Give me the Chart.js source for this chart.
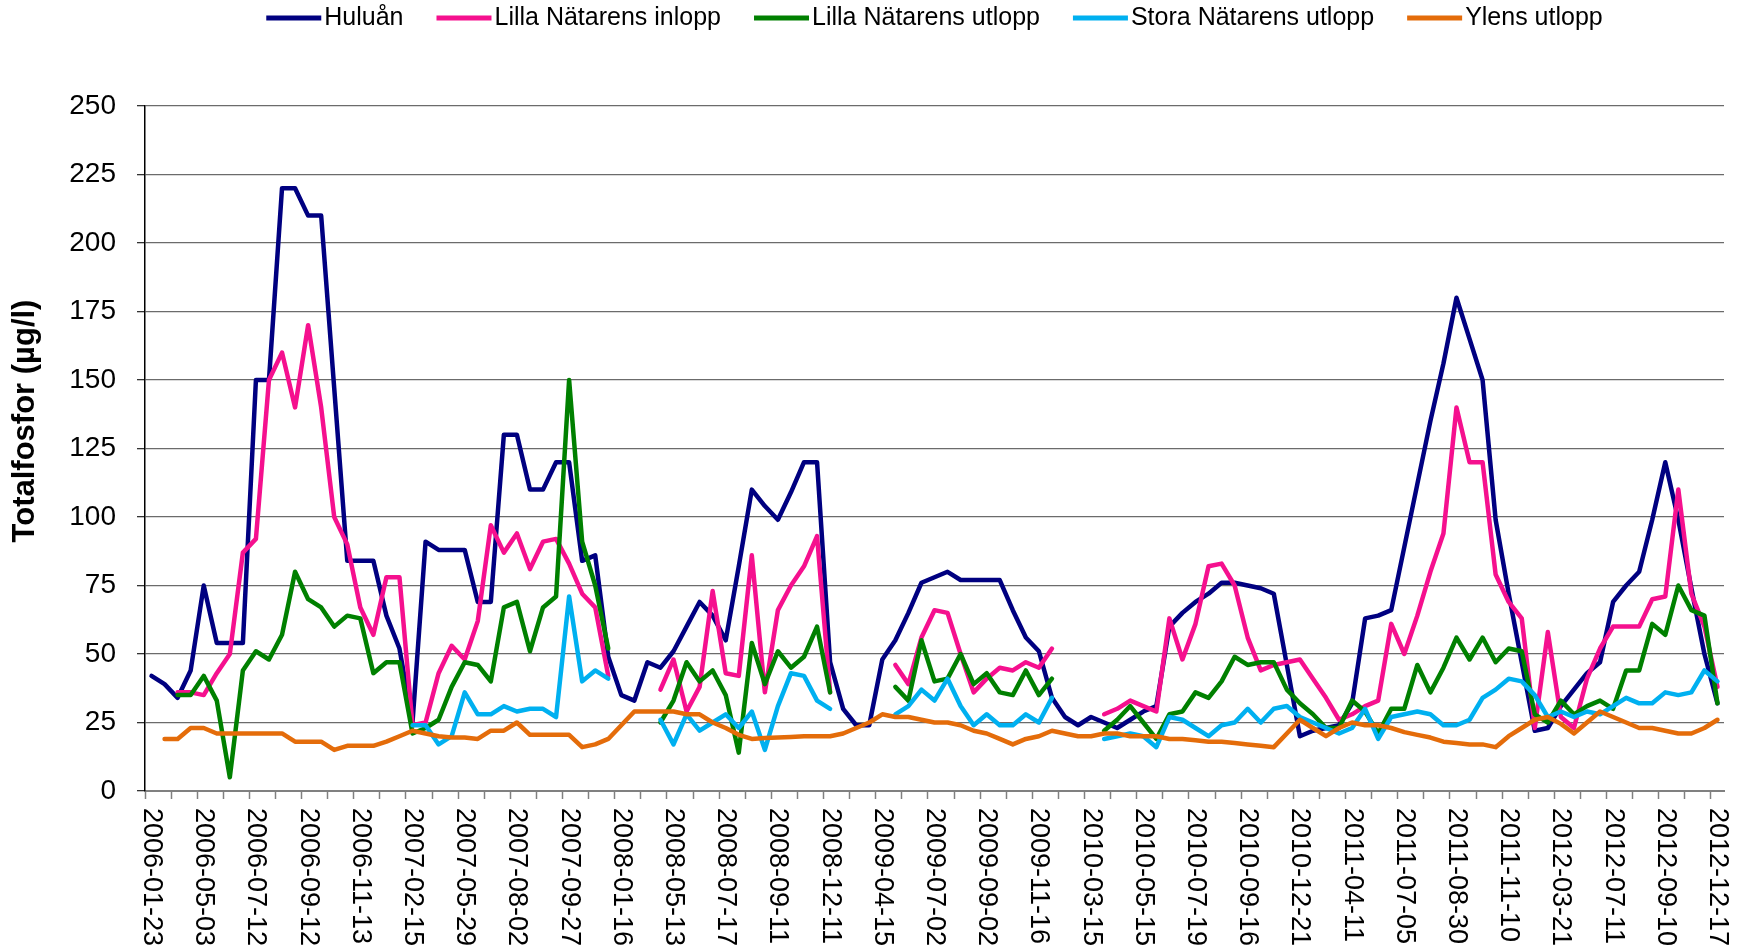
<!DOCTYPE html>
<html>
<head>
<meta charset="utf-8">
<title>Totalfosfor</title>
<script src="https://cdn.jsdelivr.net/npm/chart.js@4/dist/chart.umd.min.js"></script>
<style>
body { margin: 0; background: #fff; }
#wrap { width: 1747px; height: 948px; }
</style>
</head>
<body>
<div id="wrap"><canvas id="chart-fosfor"></canvas></div>
<script>
// datumetiketter som syns på x-axeln (var fjärde provtagning)
var tickLabels = [
    "2006-01-23", "2006-05-03", "2006-07-12", "2006-09-12", "2006-11-13",
    "2007-02-15", "2007-05-29", "2007-08-02", "2007-09-27", "2008-01-16",
    "2008-05-13", "2008-07-17", "2008-09-11", "2008-12-11", "2009-04-15",
    "2009-07-02", "2009-09-02", "2009-11-16", "2010-03-15", "2010-05-15",
    "2010-07-19", "2010-09-16", "2010-12-21", "2011-04-11", "2011-07-05",
    "2011-08-30", "2011-11-10", "2012-03-21", "2012-07-11", "2012-09-10",
    "2012-12-17"
];

var seriesNames = ["Huluån", "Lilla Nätarens inlopp", "Lilla Nätarens utlopp", "Stora Nätarens utlopp", "Ylens utlopp"];
var seriesColors = ["#000080", "#f5108e", "#008000", "#00b0f0", "#e46c0a"];

var huluan = [
    42, 39, 34, 44, 75, 54, 54, 54, 150, 150, 220, 220, 210, 210, 147, 84, 84, 84, 64, 52,
    25, 91, 88, 88, 88, 69, 69, 130, 130, 110, 110, 120, 120, 84, 86, 49, 35, 33, 47, 45,
    51, 60, 69, 64, 55, 82, 110, 104, 99, 109, 120, 120, 47, 30, 24, 24, 48, 55, 65, 76,
    78, 80, 77, 77, 77, 77, 66, 56, 51, 34, 27, 24, 27, 25, 23, 26, 29, 31, 60, 65,
    69, 72, 76, 76, 75, 74, 72, 46, 20, 22, 23, 24, 32, 63, 64, 66, 89, 112, 135, 156,
    180, 165, 150, 99, 72, 47, 22, 23, 31, 37, 43, 47, 69, 75, 80, 99, 120, 99, 74, 50,
    32
];

var lillaInlopp = [
    null, null, 36, 36, 35, 43, 50, 87, 92, 150, 160, 140, 170, 140, 100, 90, 67, 57, 78, 78,
    24, 25, 43, 53, 48, 62, 97, 87, 94, 81, 91, 92, 83, 72, 67, 42, null, null, null, 37,
    48, 29, 38, 73, 43, 42, 86, 36, 66, 75, 82, 93, 36, null, null, null, null, 46, 39, 56,
    66, 65, 50, 36, 41, 45, 44, 47, 45, 52, null, null, null, 28, 30, 33, 31, 29, 63, 48,
    61, 82, 83, 75, 56, 44, 46, 47, 48, 41, 34, 26, 28, 31, 33, 61, 50, 64, 80, 94,
    140, 120, 120, 79, 69, 63, 23, 58, 27, 23, 41, 52, 60, 60, 60, 70, 71, 110, 72, 60,
    38
];

var lillaUtlopp = [
    null, null, 35, 35, 42, 33, 5, 44, 51, 48, 57, 80, 70, 67, 60, 64, 63, 43, 47, 47,
    21, 23, 26, 38, 47, 46, 40, 67, 69, 51, 67, 71, 150, 91, 75, 52, null, null, null, 25,
    33, 47, 40, 44, 35, 14, 54, 39, 51, 45, 49, 60, 36, null, null, null, null, 38, 33, 55,
    40, 41, 50, 39, 43, 36, 35, 44, 35, 41, null, null, null, 22, 26, 31, 25, 19, 28, 29,
    36, 34, 40, 49, 46, 47, 47, 37, 32, 28, 23, 23, 33, 29, 21, 30, 30, 46, 36, 45,
    56, 48, 56, 47, 52, 51, 28, 25, 33, 28, 31, 33, 30, 44, 44, 61, 57, 75, 66, 64,
    32
];

var storaUtlopp = [
    null, null, null, null, null, null, null, null, null, null, null, null, null, null, null, null, null, null, null, null,
    24, 24, 17, 20, 36, 28, 28, 31, 29, 30, 30, 27, 71, 40, 44, 41, null, null, null, 26,
    17, 28, 22, 25, 28, 23, 29, 15, 31, 43, 42, 33, 30, null, null, null, null, 28, 31, 37,
    33, 41, 31, 24, 28, 24, 24, 28, 25, 34, null, null, null, 19, 20, 21, 20, 16, 27, 26,
    23, 20, 24, 25, 30, 25, 30, 31, 27, 25, 23, 21, 23, 30, 19, 27, 28, 29, 28, 24,
    24, 26, 34, 37, 41, 40, 35, 27, 29, 27, 29, 28, 31, 34, 32, 32, 36, 35, 36, 44,
    40
];

var ylensUtlopp = [
    null, 19, 19, 23, 23, 21, 21, 21, 21, 21, 21, 18, 18, 18, 15, 16.5, 16.5, 16.5, 18, 20,
    22, 21, 20, 19.5, 19.5, 19, 22, 22, 25, 20.5, 20.5, 20.5, 20.5, 16, 17, 19, 24, 29, 29, 29,
    29, 28, 28, 25, 23, 20.5, 19, 19.3, 19.5, 19.7, 20, 20, 20, 21, 23, 25, 28, 27, 27, 26,
    25, 25, 24, 22, 21, 19, 17, 19, 20, 22, 21, 20, 20, 21, 21, 20, 20, 20, 19, 19,
    18.5, 18, 18, 17.5, 17, 16.5, 16, 21, 26, 23, 20, 23, 25, 24, 24, 23, 21.5, 20.5, 19.5, 18,
    17.5, 17, 17, 16, 20, 23, 26, 27, 24.5, 21, 25, 29, 27, 25, 23, 23, 22, 21, 21, 23,
    26
];

// en kategori per provtagning, bara var fjärde har text
var categories = [];
for (var i = 0; i < huluan.length; i++) {
    categories.push(i % 4 == 0 ? tickLabels[i / 4] : "");
}

var allSeries = [huluan, lillaInlopp, lillaUtlopp, storaUtlopp, ylensUtlopp];
var datasets = [];
for (var s = 0; s < allSeries.length; s++) {
    datasets.push({
        label: seriesNames[s],
        data: allSeries[s],
        borderColor: seriesColors[s],
        backgroundColor: seriesColors[s],
        borderWidth: 4.5,
        pointRadius: 0,
        pointHoverRadius: 0,
        tension: 0,
        fill: false,
        spanGaps: false,
        borderCapStyle: 'round',
        borderJoinStyle: 'round',
        order: allSeries.length - s   // sista serien överst, som i Excel
    });
}

var fontFamily = '"Liberation Sans", Arial, sans-serif';
Chart.defaults.font.family = fontFamily;
Chart.defaults.color = '#000';

// legend, lodrät x-text och y-titel ritas för hand
var extraText = {
    id: 'extraText',
    afterDraw: function(chart) {
        var ctx = chart.ctx;
        var area = chart.chartArea;
        var xs = chart.scales.x;
        ctx.save();
        ctx.fillStyle = '#000';

        // x-etiketter, vridna medurs
        ctx.font = '27px ' + fontFamily;
        ctx.textAlign = 'left';
        ctx.textBaseline = 'middle';
        for (var i = 0; i < categories.length; i += 4) {
            ctx.save();
            ctx.translate(xs.getPixelForValue(i), area.bottom + 17);
            ctx.rotate(Math.PI / 2);
            ctx.fillText(categories[i], 0, 0);
            ctx.restore();
        }

        // y-titel
        ctx.save();
        ctx.font = 'bold 31px ' + fontFamily;
        ctx.textAlign = 'center';
        ctx.translate(25, 421);
        ctx.rotate(-Math.PI / 2);
        ctx.fillText("Totalfosfor (µg/l)", 0, 0);
        ctx.restore();

        // legend
        ctx.font = '25px ' + fontFamily;
        var lineLen = 55, gapText = 3, gapItem = 33;
        var total = 0;
        for (var k = 0; k < seriesNames.length; k++) {
            total += lineLen + gapText + ctx.measureText(seriesNames[k]).width;
        }
        total += gapItem * (seriesNames.length - 1);
        var x = (area.left + area.right) / 2 - total / 2;
        var y = 18;
        for (k = 0; k < seriesNames.length; k++) {
            ctx.strokeStyle = seriesColors[k];
            ctx.lineWidth = 5;
            ctx.beginPath();
            ctx.moveTo(x, y);
            ctx.lineTo(x + lineLen, y);
            ctx.stroke();
            ctx.fillText(seriesNames[k], x + lineLen + gapText, y);
            x += lineLen + gapText + ctx.measureText(seriesNames[k]).width + gapItem;
        }
        ctx.restore();
    }
};

var config = {
    type: 'line',
    data: {
        labels: categories,
        datasets: datasets
    },
    options: {
        responsive: true,
        maintainAspectRatio: false,
        animation: false,
        layout: {
            padding: { top: 106, right: 23, left: 0, bottom: 0 }
        },
        plugins: {
            legend: { display: false },
            tooltip: { enabled: false }
        },
        scales: {
            x: {
                offset: true,
                afterFit: function(scale) { scale.height = 157; },
                grid: {
                    offset: true,
                    drawOnChartArea: false,
                    drawTicks: true,
                    tickLength: 8,
                    tickColor: function(c) { return c.index % 2 == 0 ? '#808080' : 'rgba(0,0,0,0)'; },
                    tickWidth: 1.5
                },
                border: { display: true, color: '#808080', width: 2 },
                ticks: { display: false, autoSkip: false }
            },
            y: {
                min: 0,
                max: 250,
                afterFit: function(scale) { scale.width = 145; },
                grid: {
                    color: '#6b6b6b',
                    lineWidth: 1.3,
                    tickLength: 8,
                    tickColor: '#333'
                },
                border: { display: true, color: '#000', width: 1.5 },
                ticks: {
                    stepSize: 25,
                    padding: 21,
                    font: { size: 28 },
                    color: '#000'
                }
            }
        }
    },
    plugins: [extraText]
};

window.onload = function() {
    var ctx = document.getElementById("chart-fosfor").getContext("2d");
    window.fosfor = new Chart(ctx, config);
};
</script>
</body>
</html>
